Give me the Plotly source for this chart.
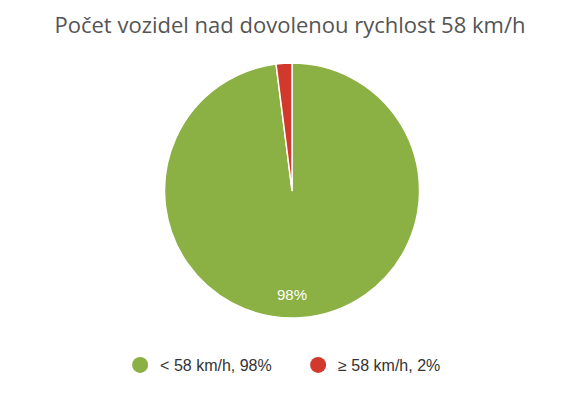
import plotly.graph_objects as go

# data
labels = ["< 58 km/h", "≥ 58 km/h"]
values = [98, 2]
colors = ["#8BB043", "#D0392B"]
title_text = "Počet vozidel nad dovolenou rychlost 58 km/h"

total = sum(values)
shares = [round(v / total * 100) for v in values]

pie = go.Pie(
    labels=labels,
    values=values,
    sort=False,
    direction="clockwise",
    rotation=0,
    marker=dict(colors=colors, line=dict(color="white", width=1.5)),
    textinfo="none",
    hoverinfo="label+percent",
    showlegend=False,
    domain=dict(x=[0.007, 1.0], y=[0.205, 0.8425]),
)

# legend entries drawn as round markers
legend_traces = []
for lab, col, sh in zip(labels, colors, shares):
    legend_traces.append(go.Scatter(
        x=[None], y=[None],
        mode="markers",
        marker=dict(color=col, size=16, symbol="circle"),
        name="{0}, {1}%".format(lab, sh),
        showlegend=True,
    ))

fig = go.Figure(data=[pie] + legend_traces)
fig.update_layout(
    width=580, height=400,
    paper_bgcolor="white", plot_bgcolor="white",
    margin=dict(l=0, r=0, t=0, b=0),
    title=dict(
        text=title_text,
        x=0.5, xanchor="center",
        y=0.938, yanchor="middle",
        font=dict(family="Open Sans", size=22, color="#555555"),
    ),
    legend=dict(
        orientation="h",
        x=0.514, xanchor="center",
        y=0.0875, yanchor="middle",
        font=dict(family="Liberation Sans, Arial", size=16, color="#333333"),
        itemsizing="trace",
        entrywidth=133,
        tracegroupgap=0,
    ),
    xaxis=dict(visible=False),
    yaxis=dict(visible=False),
    # label of the big slice, placed low inside the pie like the original
    annotations=[dict(
        text="{0}%".format(shares[0]),
        x=0.503, y=0.265, xref="paper", yref="paper",
        xanchor="center", yanchor="middle",
        showarrow=False,
        font=dict(family="Liberation Sans, Arial", size=15, color="white"),
    )],
)

fig.write_html("out.html", config={"displayModeBar": False},
               post_script="document.body.style.margin='0px';")
